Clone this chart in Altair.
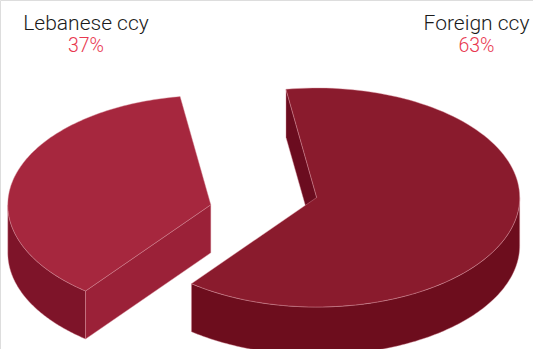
import math
import altair as alt
import pandas as pd

# ---- data ----
labels = ["Lebanese ccy", "Foreign ccy"]
shares = [37, 63]

# ---- layout / style ----
W, H = 533, 349
RX, RY, DEPTH = 203.0, 109.5, 48.0
START = 98.7  # degrees, boundary between slices (parameter angle)
centers = [(210.8, 204.8), (316.7, 197.5)]
label_pos = [(86, 30), (476.5, 30)]
top_colors = ["#a6273e", "#8a1b2d"]
side_colors = ["#7e1429", "#6d0d1d"]
wall_colors = ["#9b2138", "#6b0c1f"]
edge_color = "#d8909c"
pct_color = "#e8384f"


def pt(c, t_deg, dz=0.0):
    t = math.radians(t_deg)
    return [c[0] + RX * math.cos(t), c[1] - RY * math.sin(t) + dz]


def arc(c, a, b, dz=0.0, n=120):
    return [pt(c, a + (b - a) * k / n, dz) for k in range(n + 1)]


def feature(coords, key):
    ring = coords + [coords[0]]
    return {"type": "Feature", "properties": {"key": key},
            "geometry": {"type": "Polygon", "coordinates": [ring]}}


# slice angle ranges (counter-clockwise a0 -> a1)
sweeps = [360.0 * s / sum(shares) for s in shares]
ranges = [(START, START + sweeps[0]), (START + sweeps[0] - 360.0, START)]

side_feats, top_feats = [], []
keys, colors = [], []
for i, (a0, a1) in enumerate(ranges):
    c = centers[i]
    # outer curved side: visible where sin(t) < 0
    for lo, hi in [(180, 360), (-180, 0), (540, 720)]:
        s, e = max(a0, lo), min(a1, hi)
        if e > s:
            top_arc = arc(c, s, e)
            bot_arc = arc(c, e, s, DEPTH)
            side_feats.append(feature(top_arc + bot_arc, f"side{i}"))
    # radial walls
    for a, normal in [(a0, a0 - 90), (a1, a1 + 90)]:
        if math.sin(math.radians(normal)) < 0:
            cx, cy = c
            wall = [[cx, cy], pt(c, a), pt(c, a, DEPTH), [cx, cy + DEPTH]]
            side_feats.append(feature(wall, f"wall{i}"))
    # top face
    top_feats.append(feature([[c[0], c[1]]] + arc(c, a0, a1), f"top{i}"))
    keys += [f"top{i}", f"side{i}", f"wall{i}"]
    colors += [top_colors[i], side_colors[i], wall_colors[i]]

color = alt.Color("properties.key:N", scale=alt.Scale(domain=keys, range=colors), legend=None)

sides = alt.Chart(alt.Data(values=side_feats)).mark_geoshape(
    stroke=edge_color, strokeWidth=0.6, strokeOpacity=0.7
).encode(color=color).project(type="identity", scale=1, translate=[0, 0])

tops = alt.Chart(alt.Data(values=top_feats)).mark_geoshape(
    stroke=edge_color, strokeWidth=0.6, strokeOpacity=0.7
).encode(color=color).project(type="identity", scale=1, translate=[0, 0])

texts = []
for i in range(2):
    lx, ly = label_pos[i]
    df = pd.DataFrame({"label": [labels[i]], "pct": [f"{shares[i]}%"]})
    texts.append(alt.Chart(df).mark_text(
        font="Roboto", fontWeight=300, fontSize=21, color="#1a1a1a", baseline="alphabetic", align="center"
    ).encode(x=alt.value(lx), y=alt.value(ly), text="label:N"))
    texts.append(alt.Chart(df).mark_text(
        font="Roboto", fontWeight=300, fontSize=19.5, color=pct_color, baseline="alphabetic", align="center"
    ).encode(x=alt.value(lx), y=alt.value(ly + 22), text="pct:N"))

chart = alt.layer(sides, tops, *texts).properties(
    width=W, height=H, autosize=alt.AutoSizeParams(type="none"), padding=0
).configure_view(stroke=None).configure(background="white")

chart.save("out.html", embed_options={"renderer": "svg", "actions": False})
